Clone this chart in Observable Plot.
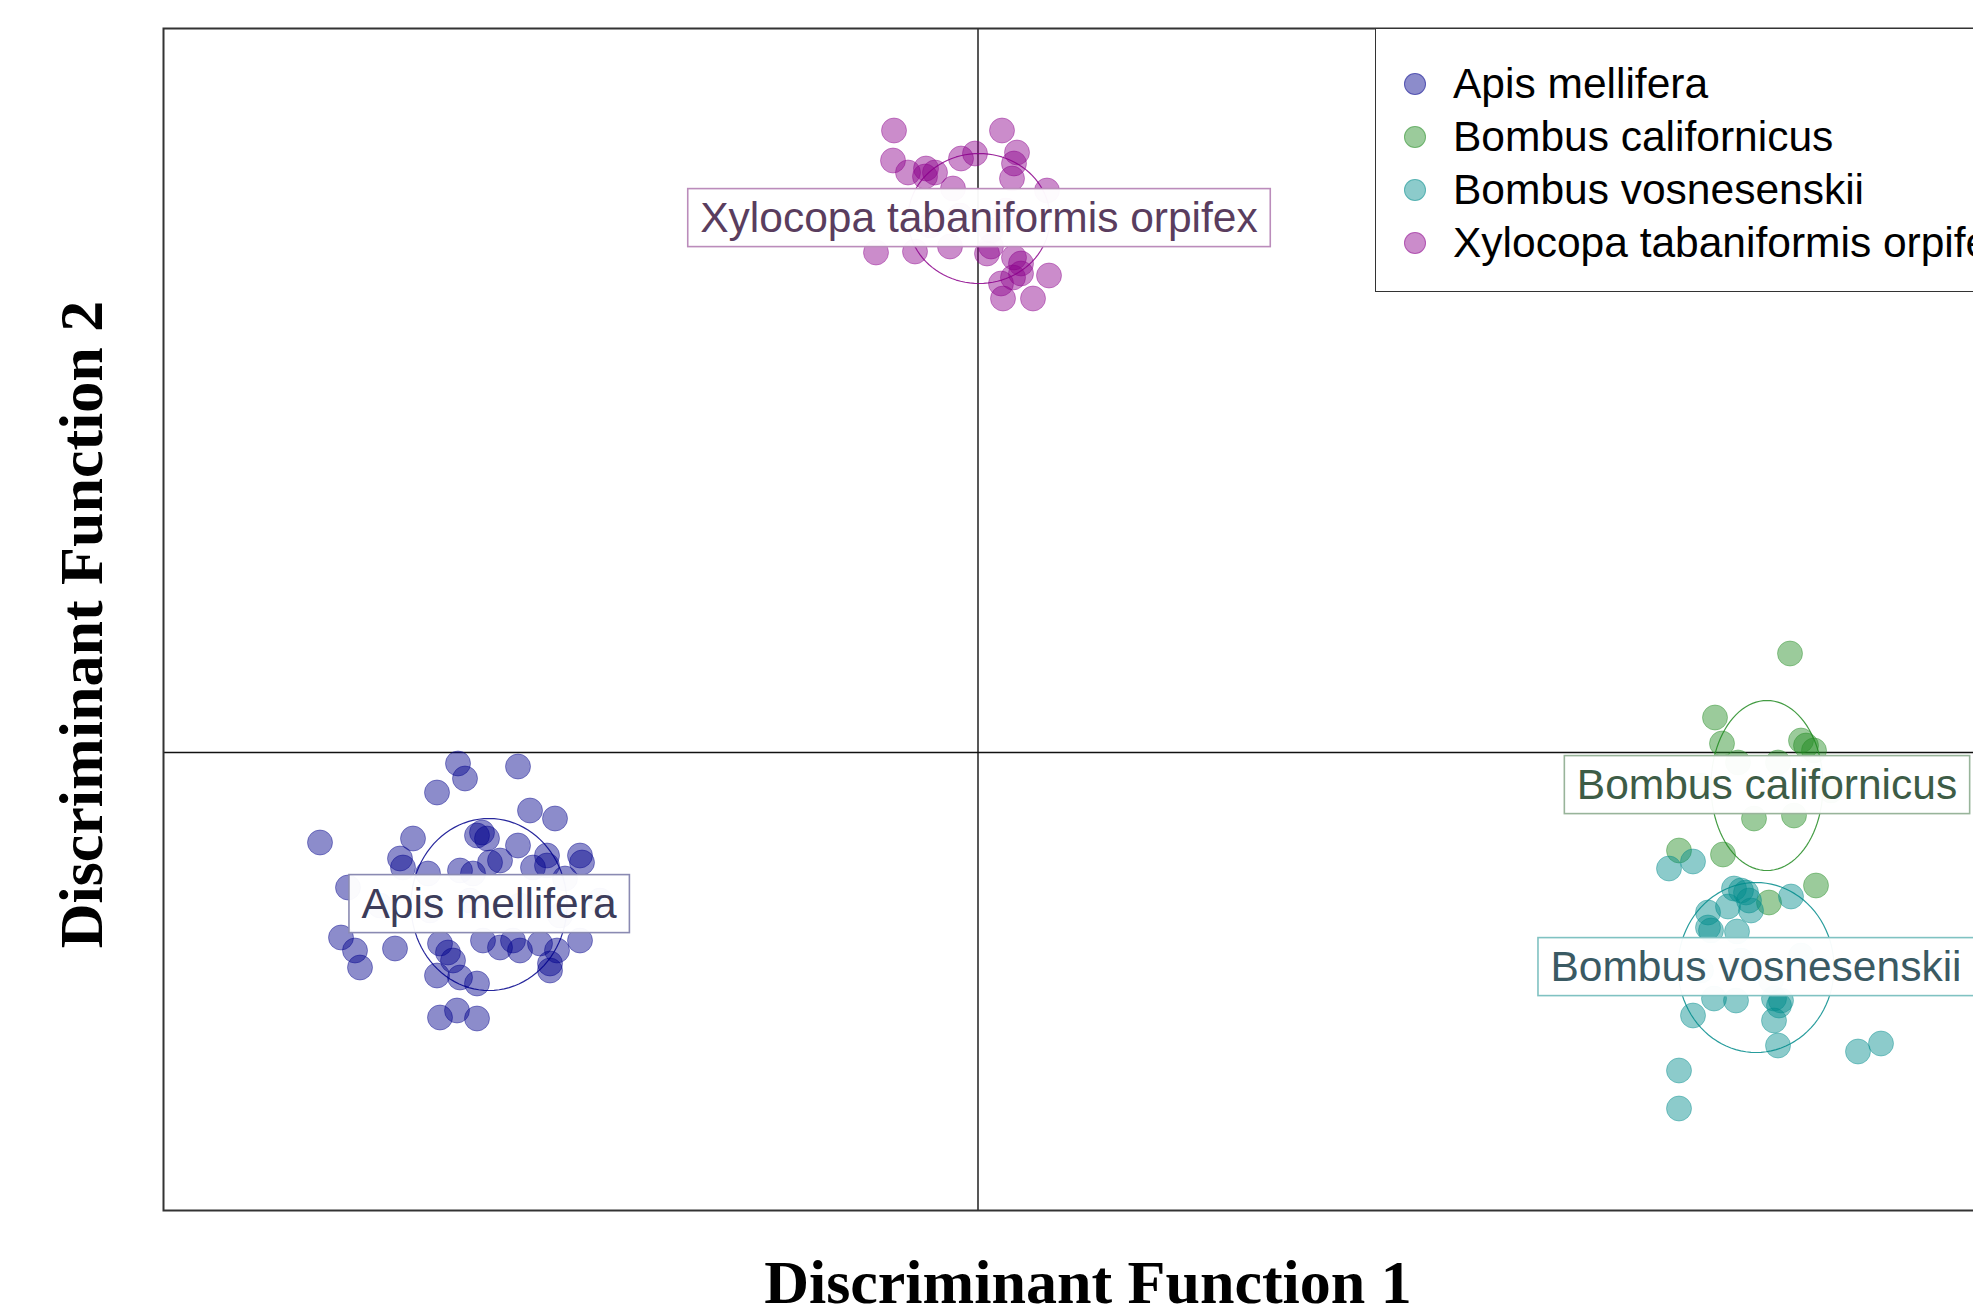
<!DOCTYPE html>
<html>
<head>
<meta charset="utf-8">
<script src="https://cdn.jsdelivr.net/npm/d3@7"></script>
<script src="https://cdn.jsdelivr.net/npm/@observablehq/plot@0.6"></script>
<style>
  html, body { margin: 0; padding: 0; background: #fff; overflow: hidden; }
  #wrap { position: relative; width: 2020px; height: 1315px; }
  #legend {
    position: absolute; left: 1375px; top: 28px; width: 700px; height: 264px;
    border: 1.5px solid #333; box-sizing: border-box; background: #fff;
    font-family: "Liberation Sans", Arial, sans-serif; font-size: 42.5px; color: #000;
  }
  .lg-row { position: absolute; left: 0; height: 50px; display: flex; align-items: center; white-space: nowrap; }
  .lg-dot { position: absolute; left: 28px; width: 22px; height: 22px; border-radius: 50%; box-sizing: border-box; }
  .lg-txt { position: absolute; left: 77px; line-height: 50px; }
</style>
</head>
<body>
<div id="wrap"></div>
<script>
// ---------------- data ----------------
const species = ["Apis mellifera", "Bombus californicus", "Bombus vosnesenskii", "Xylocopa tabaniformis orpifex"];
const speciesColors = ["#00008B", "#228B22", "#008B8B", "#8B008B"];
const labelTextColors = ["#3c3c5a", "#3d5c46", "#3a5a63", "#5a3d5e"];
const labelBoxColors = ["#8a8ab2", "#98b49a", "#80c2c2", "#bb8cbb"];

// class centres (LD1, LD2) and ellipse half-axes
const centerLD1 = [-4.89, 7.89, 7.78, 0.01];
const centerLD2 = [-1.52, -0.33, -2.15, 5.34];
const ellipseRX = [0.78, 0.56, 0.78, 0.71];
const ellipseRY = [0.86, 0.85, 0.85, 0.65];

const apisPoints = [
  [-5.20,-0.11],[-5.13,-0.26],[-4.60,-0.14],[-5.41,-0.40],[-4.48,-0.58],[-4.23,-0.66],
  [-6.58,-0.90],[-5.65,-0.86],[-5.01,-0.83],[-4.91,-0.86],[-4.96,-0.80],[-5.78,-1.06],
  [-4.60,-0.93],[-4.78,-1.08],[-4.88,-1.10],[-4.31,-1.03],[-3.98,-1.03],[-3.96,-1.10],
  [-4.45,-1.15],[-4.31,-1.13],[-5.75,-1.15],[-5.18,-1.18],[-5.05,-1.21],[-5.50,-1.21],
  [-6.30,-1.35],[-6.37,-1.85],[-6.23,-1.98],[-6.18,-2.15],[-5.83,-1.96],[-5.38,-1.91],
  [-5.30,-2.00],[-5.25,-2.08],[-4.95,-1.88],[-4.78,-1.95],[-4.65,-1.88],[-4.58,-1.98],
  [-4.38,-1.91],[-4.21,-1.98],[-3.98,-1.88],[-4.28,-2.11],[-4.28,-2.18],[-5.41,-2.23],
  [-5.18,-2.25],[-5.01,-2.31],[-5.38,-2.65],[-5.21,-2.58],[-5.01,-2.66],[-4.13,-1.26],
  [-5.98,-1.53],[-5.48,-1.58],[-5.08,-1.48],[-4.58,-1.53],[-4.18,-1.63],[-3.78,-1.48]
];
const californicusPoints = [
  [8.12,0.99],[7.37,0.35],[7.44,0.09],[8.23,0.12],[8.28,0.07],[8.36,0.02],
  [7.60,-0.10],[8.00,-0.10],[7.76,-0.66],[8.16,-0.63],[7.01,-0.98],[7.45,-1.02],
  [8.38,-1.33],[7.91,-1.50],[7.23,-0.33],[8.53,-0.38]
];
const vosnesenskiiPoints = [
  [6.91,-1.16],[7.15,-1.09],[7.56,-1.36],[7.63,-1.38],[7.68,-1.40],[7.71,-1.48],
  [8.13,-1.44],[7.50,-1.54],[7.30,-1.60],[7.73,-1.58],[7.30,-1.75],[7.33,-1.78],
  [7.59,-1.79],[7.36,-2.46],[7.58,-2.48],[7.96,-2.46],[8.03,-2.48],[8.01,-2.53],
  [7.15,-2.63],[7.96,-2.68],[8.00,-2.93],[8.80,-2.99],[9.03,-2.91],[7.01,-3.18],
  [7.01,-3.56],[7.63,-2.08],[8.23,-2.03],[7.23,-2.18],[7.93,-2.28]
];
const xylocopaPoints = [
  [-0.84,6.22],[0.24,6.22],[-0.85,5.92],[0.39,6.00],[0.36,5.89],[-0.17,5.94],
  [-0.03,5.99],[-0.70,5.80],[-0.52,5.84],[-0.43,5.80],[-0.53,5.76],[0.34,5.74],
  [-1.02,5.00],[-0.63,5.01],[-0.28,5.06],[0.09,4.99],[0.13,5.06],[0.36,4.95],
  [0.43,4.89],[0.35,4.75],[0.43,4.79],[0.23,4.69],[0.71,4.77],[0.25,4.54],
  [0.55,4.54],[-0.25,5.64],[0.69,5.62],[-0.18,5.37],[0.28,5.42],[-0.48,5.27],[0.13,5.22]
];

const xDomain = [-8.145, 10.345];
const yDomain = [-4.58, 7.24];
const xTitle = "Discriminant Function 1";
const yTitle = "Discriminant Function 2";

// ---------------- tables ----------------
const groups = [apisPoints, californicusPoints, vosnesenskiiPoints, xylocopaPoints];
const points = groups.flatMap((arr, i) => arr.map(([a, b]) => ({species: species[i], LD1: a, LD2: b})));
const ellipses = species.flatMap((s, i) => d3.range(0, 97).map(k => {
  const t = k / 96 * 2 * Math.PI;
  return {species: s, LD1: centerLD1[i] + ellipseRX[i] * Math.cos(t), LD2: centerLD2[i] + ellipseRY[i] * Math.sin(t)};
}));
const centers = species.map((s, i) => ({species: s, LD1: centerLD1[i], LD2: centerLD2[i]}));

const sans = "'Liberation Sans', Arial, Helvetica, sans-serif";
const serif = "'Liberation Serif', 'Times New Roman', serif";

const svg = Plot.plot({
  width: 2020,
  height: 1315,
  marginLeft: 163,
  marginRight: 8,
  marginTop: 28,
  marginBottom: 105,
  style: {background: "white", overflow: "visible"},
  x: {domain: xDomain, axis: null},
  y: {domain: yDomain, axis: null},
  color: {domain: species, range: speciesColors},
  marks: [
    Plot.ruleX([0], {stroke: "#111", strokeWidth: 1.4}),
    Plot.ruleY([0], {stroke: "#111", strokeWidth: 1.4}),
    Plot.line(ellipses, {x: "LD1", y: "LD2", z: "species", stroke: "species", strokeWidth: 1.2, strokeOpacity: 0.85}),
    Plot.dot(points, {x: "LD1", y: "LD2", r: 12.5, fill: "species", fillOpacity: 0.45, stroke: "species", strokeOpacity: 0.4, strokeWidth: 1}),
    ...species.map((s, i) => Plot.text([centers[i]], {
      x: "LD1", y: "LD2", text: "species", fill: labelTextColors[i],
      fontSize: 42.5, fontFamily: sans
    })),
    Plot.frame({stroke: "#333", strokeWidth: 2}),
    Plot.text([xTitle], {text: d => d, frameAnchor: "bottom", textAnchor: "middle", dy: 92, fontSize: 62, fontWeight: "bold", fontFamily: serif, fill: "#000"}),
    Plot.text([yTitle], {text: d => d, frameAnchor: "left", textAnchor: "middle", rotate: -90, dx: -81, dy: 5, fontSize: 62, fontWeight: "bold", fontFamily: serif, fill: "#000"})
  ]
});

const wrap = document.getElementById("wrap");
wrap.appendChild(svg);

// boxes behind the class labels
svg.querySelectorAll("text").forEach(t => {
  const idx = species.indexOf(t.textContent);
  if (idx < 0) return;
  const b = t.getBBox();
  const r = document.createElementNS("http://www.w3.org/2000/svg", "rect");
  r.setAttribute("x", b.x - 12.5);
  r.setAttribute("y", b.y - 5.5);
  r.setAttribute("width", b.width + 25);
  r.setAttribute("height", b.height + 11);
  const tr = t.getAttribute("transform");
  if (tr) r.setAttribute("transform", tr);
  r.setAttribute("fill", "white");
  r.setAttribute("fill-opacity", "0.96");
  r.setAttribute("stroke", labelBoxColors[idx]);
  r.setAttribute("stroke-width", "1.6");
  t.parentNode.insertBefore(r, t);
});

// legend (inside plot, top-right)
const legend = document.createElement("div");
legend.id = "legend";
species.forEach((s, i) => {
  const row = document.createElement("div");
  row.className = "lg-row";
  row.style.top = (30 + i * 53) + "px";
  const dot = document.createElement("span");
  dot.className = "lg-dot";
  const c = d3.color(speciesColors[i]);
  dot.style.background = c.copy({opacity: 0.45}).formatRgb();
  dot.style.border = "1px solid " + c.copy({opacity: 0.4}).formatRgb();
  const txt = document.createElement("span");
  txt.className = "lg-txt";
  txt.textContent = s;
  row.appendChild(dot);
  row.appendChild(txt);
  legend.appendChild(row);
});
wrap.appendChild(legend);
</script>
</body>
</html>
